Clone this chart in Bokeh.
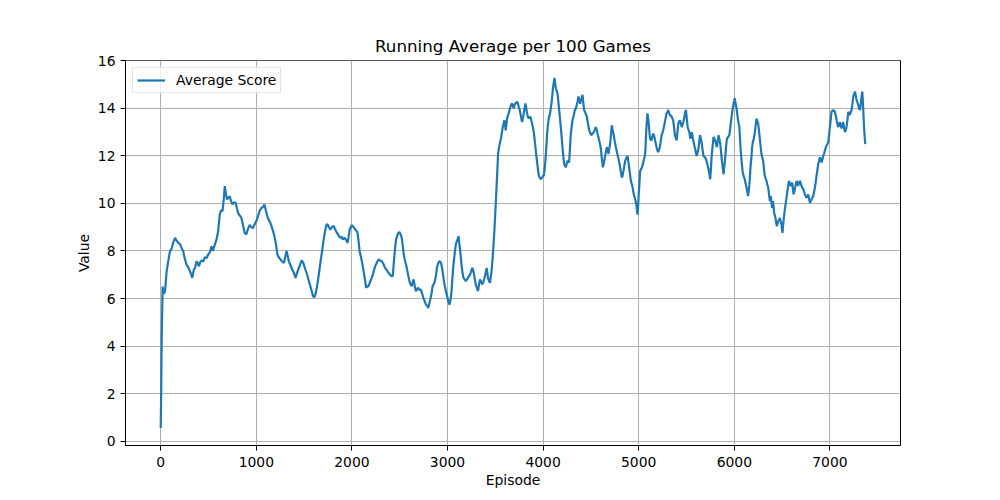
from bokeh.plotting import figure
from bokeh.models import Range1d, ColumnDataSource, Legend, LegendItem
from bokeh.embed import file_html
from bokeh.resources import INLINE

episodes = [
    0, 5, 10, 20, 30, 45, 62, 80, 97, 115, 130, 150, 165, 184, 200, 218, 235, 250, 270, 290,
    305, 320, 330, 345, 360, 375, 390, 400, 415, 427, 445, 462, 480, 496, 515, 531, 545, 566, 585, 600,
    618, 630, 646, 660, 670, 682, 694, 708, 722, 736, 750, 765, 784, 797, 809, 825, 843, 860, 878, 895,
    910, 930, 948, 965, 980, 1000, 1017, 1034, 1050, 1070, 1085, 1100, 1120, 1150, 1170, 1185, 1205, 1220, 1240, 1254,
    1270, 1289, 1305, 1316, 1328, 1340, 1358, 1375, 1392, 1410, 1428, 1445, 1460, 1473, 1485, 1497, 1515, 1532, 1545, 1560,
    1577, 1594, 1606, 1618, 1635, 1653, 1670, 1688, 1705, 1722, 1735, 1747, 1760, 1774, 1790, 1809, 1825, 1844, 1860, 1879,
    1893, 1906, 1920, 1935, 1955, 1966, 1976, 1988, 2000, 2018, 2035, 2048, 2059, 2070, 2080, 2092, 2104, 2116, 2128, 2140,
    2149, 2160, 2173, 2190, 2208, 2225, 2243, 2260, 2278, 2295, 2312, 2330, 2347, 2365, 2382, 2400, 2415, 2427, 2440, 2452,
    2462, 2473, 2485, 2497, 2510, 2521, 2532, 2542, 2555, 2566, 2583, 2601, 2613, 2625, 2636, 2646, 2658, 2670, 2683, 2695,
    2709, 2722, 2735, 2747, 2760, 2774, 2787, 2799, 2810, 2820, 2832, 2844, 2856, 2868, 2880, 2889, 2900, 2913, 2922, 2931,
    2940, 2948, 2960, 2972, 2986, 3000, 3010, 3021, 3032, 3042, 3052, 3062, 3075, 3087, 3096, 3104, 3115, 3124, 3132, 3140,
    3146, 3156, 3167, 3180, 3191, 3203, 3215, 3225, 3236, 3248, 3260, 3270, 3278, 3287, 3295, 3307, 3319, 3330, 3340, 3352,
    3364, 3374, 3382, 3395, 3409, 3416, 3423, 3433, 3444, 3452, 3461, 3470, 3479, 3490, 3500, 3511, 3520, 3529, 3538, 3547,
    3553, 3560, 3569, 3578, 3586, 3595, 3602, 3609, 3616, 3623, 3632, 3640, 3650, 3658, 3666, 3675, 3684, 3693, 3702, 3710,
    3719, 3728, 3736, 3745, 3754, 3763, 3771, 3780, 3789, 3798, 3806, 3815, 3824, 3832, 3841, 3850, 3858, 3867, 3876, 3885,
    3893, 3902, 3911, 3920, 3928, 3937, 3946, 3955, 3963, 3972, 3981, 3990, 4000, 4007, 4016, 4024, 4033, 4042, 4050, 4059,
    4073, 4080, 4087, 4096, 4105, 4112, 4119, 4126, 4133, 4141, 4150, 4159, 4168, 4176, 4185, 4194, 4202, 4211, 4220, 4228,
    4237, 4246, 4255, 4263, 4272, 4281, 4290, 4298, 4307, 4320, 4332, 4342, 4352, 4361, 4370, 4378, 4387, 4400, 4412, 4420,
    4429, 4443, 4457, 4470, 4482, 4494, 4506, 4518, 4530, 4540, 4551, 4560, 4569, 4578, 4586, 4595, 4604, 4614, 4625, 4636,
    4646, 4656, 4667, 4676, 4684, 4692, 4701, 4710, 4719, 4727, 4736, 4748, 4761, 4773, 4785, 4795, 4806, 4815, 4824, 4833,
    4841, 4850, 4859, 4871, 4883, 4892, 4900, 4910, 4918, 4935, 4950, 4962, 4975, 4982, 4988, 4994, 5000, 5008, 5015, 5025,
    5035, 5046, 5056, 5064, 5070, 5076, 5081, 5086, 5091, 5098, 5105, 5112, 5119, 5126, 5133, 5142, 5151, 5160, 5168, 5177,
    5186, 5195, 5204, 5212, 5221, 5230, 5239, 5247, 5256, 5265, 5274, 5282, 5291, 5300, 5309, 5318, 5326, 5335, 5344, 5352,
    5361, 5370, 5379, 5388, 5397, 5405, 5414, 5423, 5432, 5441, 5449, 5458, 5467, 5476, 5484, 5490, 5495, 5503, 5512, 5521,
    5530, 5540, 5548, 5556, 5564, 5572, 5581, 5590, 5598, 5607, 5616, 5625, 5633, 5642, 5651, 5660, 5668, 5677, 5686, 5695,
    5704, 5713, 5721, 5730, 5739, 5748, 5756, 5765, 5774, 5783, 5792, 5800, 5809, 5818, 5826, 5835, 5844, 5853, 5862, 5870,
    5879, 5888, 5897, 5906, 5914, 5923, 5935, 5948, 5958, 5969, 5978, 5986, 5995, 6004, 6012, 6021, 6030, 6039, 6046, 6053,
    6060, 6067, 6077, 6088, 6098, 6109, 6118, 6127, 6135, 6144, 6151, 6158, 6164, 6169, 6178, 6186, 6195, 6204, 6215, 6224,
    6232, 6241, 6250, 6258, 6267, 6275, 6284, 6292, 6302, 6310, 6319, 6328, 6337, 6345, 6354, 6363, 6372, 6382, 6390, 6396,
    6405, 6417, 6424, 6431, 6438, 6445, 6452, 6459, 6468, 6476, 6485, 6494, 6499, 6504, 6511, 6518, 6527, 6536, 6544, 6553,
    6562, 6571, 6580, 6588, 6597, 6606, 6613, 6620, 6628, 6636, 6643, 6651, 6660, 6668, 6677, 6686, 6695, 6703, 6712, 6721,
    6730, 6738, 6747, 6756, 6764, 6773, 6782, 6791, 6800, 6808, 6817, 6826, 6835, 6843, 6852, 6860, 6869, 6878, 6887, 6895,
    6904, 6913, 6922, 6930, 6939, 6948, 6957, 6965, 6974, 6983, 6992, 7000, 7009, 7017, 7026, 7035, 7044, 7052, 7061, 7070,
    7078, 7087, 7096, 7104, 7113, 7122, 7131, 7139, 7148, 7157, 7166, 7174, 7183, 7192, 7200, 7209, 7218, 7227, 7236, 7244,
    7253, 7262, 7270, 7279, 7288, 7297, 7305, 7314, 7320, 7326, 7333, 7339, 7345, 7349, 7355, 7359, 7364, 7370,
]

avg_score = [
    0.55, 2.2, 4.3, 6.5, 6.2, 6.3, 7.15, 7.6, 8.0, 8.1, 8.35, 8.55, 8.45, 8.34, 8.3, 8.13, 8.0, 7.7, 7.43, 7.3,
    7.15, 7.0, 6.87, 7.2, 7.3, 7.57, 7.45, 7.36, 7.55, 7.6, 7.55, 7.74, 7.7, 7.85, 7.95, 8.2, 8.0, 8.27, 8.5, 8.83,
    9.54, 9.7, 9.68, 10.2, 10.73, 10.4, 10.17, 10.25, 10.3, 10.1, 9.96, 10.05, 10.03, 9.8, 9.6, 9.5, 9.4, 9.1, 8.76, 8.7,
    8.9, 9.1, 9.0, 8.97, 9.1, 9.26, 9.45, 9.68, 9.8, 9.85, 9.96, 9.7, 9.4, 9.15, 8.9, 8.7, 8.3, 7.85, 7.7, 7.64,
    7.55, 7.5, 7.8, 8.0, 7.8, 7.57, 7.4, 7.22, 7.1, 6.87, 7.1, 7.29, 7.45, 7.6, 7.55, 7.43, 7.2, 7.0, 6.8, 6.59,
    6.35, 6.1, 6.05, 6.17, 6.5, 7.0, 7.5, 8.0, 8.5, 8.9, 9.1, 9.12, 9.0, 8.9, 9.0, 9.05, 8.9, 8.76, 8.65, 8.55,
    8.6, 8.48, 8.55, 8.5, 8.34, 8.6, 8.9, 9.0, 9.09, 9.0, 8.9, 8.85, 8.76, 8.4, 8.0, 7.8, 7.57, 7.3, 7.0, 6.7,
    6.45, 6.5, 6.52, 6.7, 6.87, 7.1, 7.36, 7.5, 7.64, 7.6, 7.57, 7.45, 7.29, 7.2, 7.08, 7.0, 6.94, 6.94, 7.6, 8.13,
    8.5, 8.62, 8.75, 8.8, 8.7, 8.55, 8.2, 7.85, 7.6, 7.43, 7.1, 6.73, 6.6, 6.52, 6.7, 6.8, 6.5, 6.31, 6.4, 6.45,
    6.35, 6.38, 6.2, 6.03, 5.9, 5.74, 5.7, 5.6, 5.8, 5.96, 6.2, 6.52, 6.6, 6.73, 7.0, 7.29, 7.45, 7.57, 7.55, 7.5,
    7.35, 7.15, 6.8, 6.52, 6.25, 6.03, 5.85, 5.74, 5.95, 6.31, 6.9, 7.43, 7.9, 8.27, 8.4, 8.48, 8.62, 8.3, 8.0, 7.7,
    7.43, 7.1, 6.87, 6.8, 6.73, 6.8, 6.87, 6.95, 7.0, 7.15, 7.29, 7.15, 7.0, 6.8, 6.59, 6.45, 6.31, 6.6, 6.8, 6.7,
    6.59, 6.7, 6.8, 7.0, 7.29, 7.1, 6.87, 6.75, 6.66, 6.9, 7.15, 7.6, 8.13, 8.84, 9.6, 10.53, 11.3, 12.09, 12.35, 12.51,
    12.65, 12.73, 13.0, 13.22, 13.35, 13.5, 13.3, 13.08, 13.35, 13.58, 13.7, 13.79, 13.95, 14.07, 14.15, 14.21, 14.1, 14.0, 14.15, 14.21,
    14.25, 14.28, 14.2, 14.07, 13.95, 13.79, 13.6, 13.43, 13.6, 13.79, 14.0, 14.21, 14.0, 13.79, 13.65, 13.58, 13.62, 13.65, 13.5, 13.36,
    13.2, 13.01, 12.7, 12.37, 12.05, 11.74, 11.45, 11.17, 11.1, 11.03, 11.05, 11.1, 11.16, 11.17, 11.45, 11.8, 12.35, 12.94, 13.3, 13.58,
    13.79, 14.0, 14.2, 14.55, 14.92, 15.1, 15.28, 15.05, 14.85, 14.75, 14.64, 14.3, 13.93, 13.6, 13.22, 12.8, 12.37, 12.0, 11.66, 11.6,
    11.52, 11.65, 11.8, 11.76, 11.73, 12.3, 12.94, 13.2, 13.5, 13.7, 13.93, 14.0, 14.14, 14.3, 14.5, 14.35, 14.2, 14.4, 14.57, 14.25,
    13.93, 13.8, 13.65, 13.35, 13.08, 12.95, 12.87, 12.95, 13.0, 13.1, 13.22, 13.1, 12.94, 12.8, 12.65, 12.5, 12.3, 11.9, 11.52, 11.7,
    11.94, 12.15, 12.37, 12.25, 12.09, 12.3, 12.51, 12.9, 13.29, 13.1, 12.94, 12.65, 12.37, 12.15, 11.94, 11.75, 11.52, 11.3, 11.09, 11.2,
    11.38, 11.6, 11.8, 11.9, 12.0, 11.75, 11.52, 11.2, 10.95, 10.7, 10.35, 10.2, 9.96, 9.7, 9.53, 9.9, 10.38, 10.9, 11.35, 11.45,
    11.52, 11.7, 11.87, 12.0, 12.23, 12.8, 13.22, 13.5, 13.79, 13.6, 13.36, 13.0, 12.72, 12.68, 12.65, 12.8, 12.94, 12.85, 12.72, 12.55,
    12.37, 12.25, 12.16, 12.25, 12.37, 12.6, 12.87, 12.95, 13.08, 13.25, 13.43, 13.6, 13.79, 13.85, 13.93, 13.8, 13.72, 13.7, 13.65, 13.58,
    13.5, 13.2, 12.87, 12.75, 12.65, 13.0, 13.36, 13.45, 13.5, 13.35, 13.22, 13.3, 13.43, 13.6, 13.79, 13.9, 13.93, 13.55, 13.22, 13.1,
    13.0, 12.72, 12.85, 13.0, 12.8, 12.65, 12.45, 12.3, 12.15, 12.0, 12.15, 12.3, 12.6, 12.87, 12.7, 12.51, 12.25, 12.0, 11.97, 11.94,
    11.85, 11.73, 11.6, 11.45, 11.25, 11.02, 11.5, 12.09, 12.45, 12.8, 12.72, 12.65, 12.5, 12.37, 12.6, 12.87, 12.7, 12.51, 12.15, 11.8,
    11.5, 11.23, 11.6, 12.0, 12.4, 12.72, 12.8, 12.87, 13.2, 13.57, 13.85, 14.07, 14.25, 14.43, 14.25, 14.07, 13.8, 13.5, 13.35, 13.22,
    12.7, 12.23, 11.75, 11.3, 11.15, 11.02, 10.85, 10.67, 10.5, 10.31, 10.55, 10.8, 11.15, 11.52, 11.9, 12.35, 12.6, 12.72, 13.0, 13.3,
    13.57, 13.45, 13.36, 13.05, 12.72, 12.4, 12.09, 11.94, 11.8, 11.45, 11.16, 11.05, 10.95, 10.8, 10.67, 10.4, 10.1, 10.31, 10.0, 9.82,
    10.1, 9.6, 9.5, 9.39, 9.2, 9.04, 9.15, 9.26, 9.3, 9.39, 9.25, 9.11, 8.9, 8.76, 9.1, 9.39, 9.7, 9.96, 10.2, 10.45,
    10.7, 10.95, 10.85, 10.74, 10.8, 10.88, 10.6, 10.38, 10.5, 10.67, 10.8, 10.95, 10.85, 10.74, 10.85, 10.95, 10.85, 10.74, 10.65, 10.6,
    10.5, 10.38, 10.3, 10.24, 10.3, 10.38, 10.2, 10.03, 10.1, 10.17, 10.25, 10.31, 10.5, 10.67, 10.9, 11.16, 11.4, 11.66, 11.8, 11.94,
    11.85, 11.73, 11.85, 12.0, 12.1, 12.23, 12.35, 12.44, 12.5, 12.58, 12.9, 13.22, 13.55, 13.86, 13.9, 13.93, 13.9, 13.86, 13.7, 13.5,
    13.35, 13.22, 13.3, 13.43, 13.3, 13.15, 13.3, 13.43, 13.2, 13.0, 13.1, 13.22, 13.5, 13.86, 13.8, 13.72, 13.85, 13.93, 14.2, 14.5,
    14.6, 14.71, 14.55, 14.35, 14.25, 14.14, 14.0, 13.93, 14.1, 14.35, 14.55, 14.71, 14.3, 13.93, 13.4, 13.08, 12.8, 12.5,
]

x_ticks = [0, 1000, 2000, 3000, 4000, 5000, 6000, 7000]
y_ticks = [0, 2, 4, 6, 8, 10, 12, 14, 16]

FONT = "DejaVu Sans"

xmin, xmax = min(episodes), max(episodes)
ymin, ymax = min(avg_score), max(avg_score)
xpad = 0.05 * (xmax - xmin)
ypad = 0.05 * (ymax - ymin)

p = figure(
    width=992, height=492,
    x_range=Range1d(xmin - xpad, xmax + xpad),
    y_range=Range1d(ymin - ypad, ymax + ypad),
    output_backend="svg", toolbar_location=None,
    min_border_left=125, min_border_right=92, min_border_top=60, min_border_bottom=47,
    title="Running Average per 100 Games",
)
p.background_fill_color = "white"
p.border_fill_color = "white"
p.outline_line_color = "black"
p.outline_line_width = 1
p.outline_line_alpha = 1

p.title.align = "center"
p.title.text_font = FONT
p.title.text_font_size = "16.7px"
p.title.text_font_style = "normal"
p.title.text_color = "black"
p.title.standoff = 10

src = ColumnDataSource(dict(x=episodes, y=avg_score))
r = p.line("x", "y", source=src, line_color="#1f77b4", line_width=2.2)

p.xaxis.ticker = x_ticks
p.yaxis.ticker = y_ticks
p.xaxis.axis_label = "Episode"
p.yaxis.axis_label = "Value"
for ax in (p.xaxis[0], p.yaxis[0]):
    ax.axis_label_text_font = FONT
    ax.axis_label_text_font_size = "13.9px"
    ax.axis_label_text_font_style = "normal"
    ax.axis_label_text_color = "black"
    ax.major_label_text_font = FONT
    ax.major_label_text_font_size = "13.9px"
    ax.major_label_text_color = "black"
    ax.major_tick_in = 0
    ax.major_tick_out = 5
    ax.major_tick_line_color = "black"
    ax.minor_tick_line_color = None
    ax.axis_line_color = "black"

p.xaxis[0].major_label_standoff = 6
p.xaxis[0].axis_label_standoff = 2
p.yaxis[0].major_label_standoff = 5
p.yaxis[0].axis_label_standoff = 3

p.grid.grid_line_color = "#b0b0b0"
p.grid.grid_line_width = 1
p.grid.grid_line_alpha = 1

legend = Legend(items=[LegendItem(label="Average Score", renderers=[r])],
                location="top_left")
legend.margin = 7
legend.padding = 4
legend.glyph_width = 28
legend.glyph_height = 16
legend.label_standoff = 11
legend.label_text_font = FONT
legend.label_text_font_size = "13.9px"
legend.label_text_color = "black"
legend.border_line_color = "#cccccc"
legend.border_line_width = 1
legend.background_fill_color = "white"
legend.background_fill_alpha = 0.8
p.add_layout(legend)

open("out.html", "w").write(file_html(p, INLINE))
